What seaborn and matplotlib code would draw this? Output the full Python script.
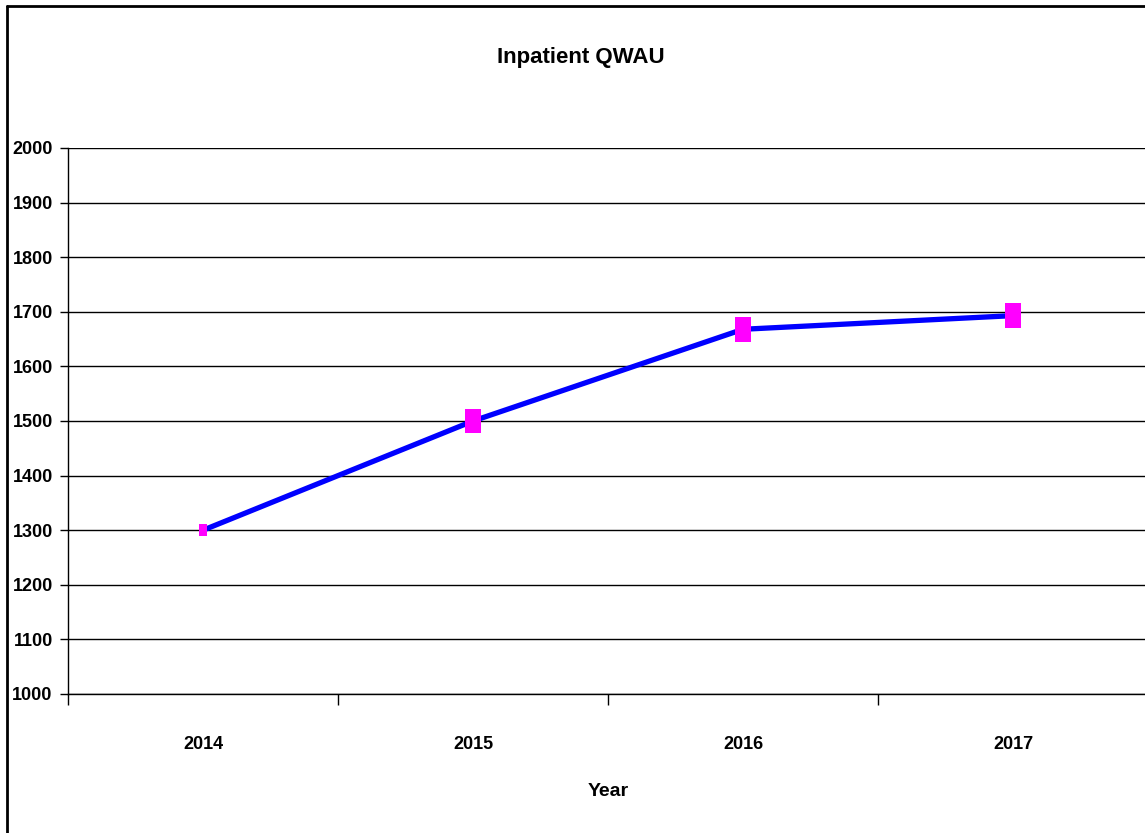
import numpy as np
import pandas as pd
import seaborn as sns
import matplotlib.pyplot as plt
from matplotlib.lines import Line2D

# Data
years = ["2014", "2015", "2016", "2017"]
qwau = [1300, 1500, 1668, 1693]
marker_sizes = [80, 320, 320, 320]

sns.set_theme(style="white")
plt.rcParams['font.family'] = ['Liberation Sans', 'DejaVu Sans']
plt.rcParams['font.weight'] = 'bold'
plt.rcParams['text.color'] = 'black'
plt.rcParams['xtick.color'] = 'black'
plt.rcParams['ytick.color'] = 'black'
plt.rcParams['axes.labelcolor'] = 'black'

df = pd.DataFrame({"year": years, "qwau": qwau, "msize": marker_sizes})
df["pos"] = np.arange(len(years))

fig = plt.figure(figsize=(11.45, 8.33), dpi=100)
ax = fig.add_axes([68 / 1145, 139 / 833, 1080 / 1145, 546 / 833])

# rectangular (tall) marker
rect = [(-0.65, -1), (0.65, -1), (0.65, 1), (-0.65, 1), (-0.65, -1)]

sns.lineplot(data=df, x="pos", y="qwau", ax=ax, color="#0000ff", linewidth=3.8, zorder=3)
sns.scatterplot(data=df, x="pos", y="qwau", ax=ax, size="msize", sizes=(80, 320),
                marker=rect, color="#ff00ff", edgecolor="none", legend=False, zorder=4)

ax.set_xlim(-0.5, 3.5)
ax.set_ylim(1000, 2000)
ax.set_yticks(np.arange(1000, 2001, 100))
ax.yaxis.grid(True, color="black", linewidth=1)
ax.xaxis.grid(False)
ax.set_axisbelow(True)

# category boundaries as major ticks, labels on minor ticks at centres
ax.set_xticks(np.arange(-0.5, 4.0, 1.0))
ax.set_xticklabels([])
ax.set_xticks(df["pos"], minor=True)
ax.set_xticklabels(years, minor=True)
ax.tick_params(axis="x", which="major", direction="out", length=8, width=1, color="black", bottom=True)
ax.tick_params(axis="x", which="minor", length=0, pad=30, labelsize=13)
ax.tick_params(axis="y", direction="out", length=6, width=1, color="black", left=True, labelsize=13, pad=5)

for side in ["top", "right"]:
    ax.spines[side].set_visible(False)
for side in ["left", "bottom"]:
    ax.spines[side].set_color("black")
    ax.spines[side].set_linewidth(1)

ax.set_xlabel("Year", fontsize=14, fontweight="bold", labelpad=22)
ax.set_ylabel("")
fig.text(581 / 1145, 1 - 58 / 833, "Inpatient QWAU", ha="center", va="center",
         fontsize=16, fontweight="bold")

# outer chart border (left and top)
fig.add_artist(Line2D([7 / 1145, 7 / 1145], [0, 1 - 6 / 833], color="black", linewidth=2))
fig.add_artist(Line2D([7 / 1145, 1], [1 - 6 / 833, 1 - 6 / 833], color="black", linewidth=2))

fig.savefig("out.png", dpi=100)
